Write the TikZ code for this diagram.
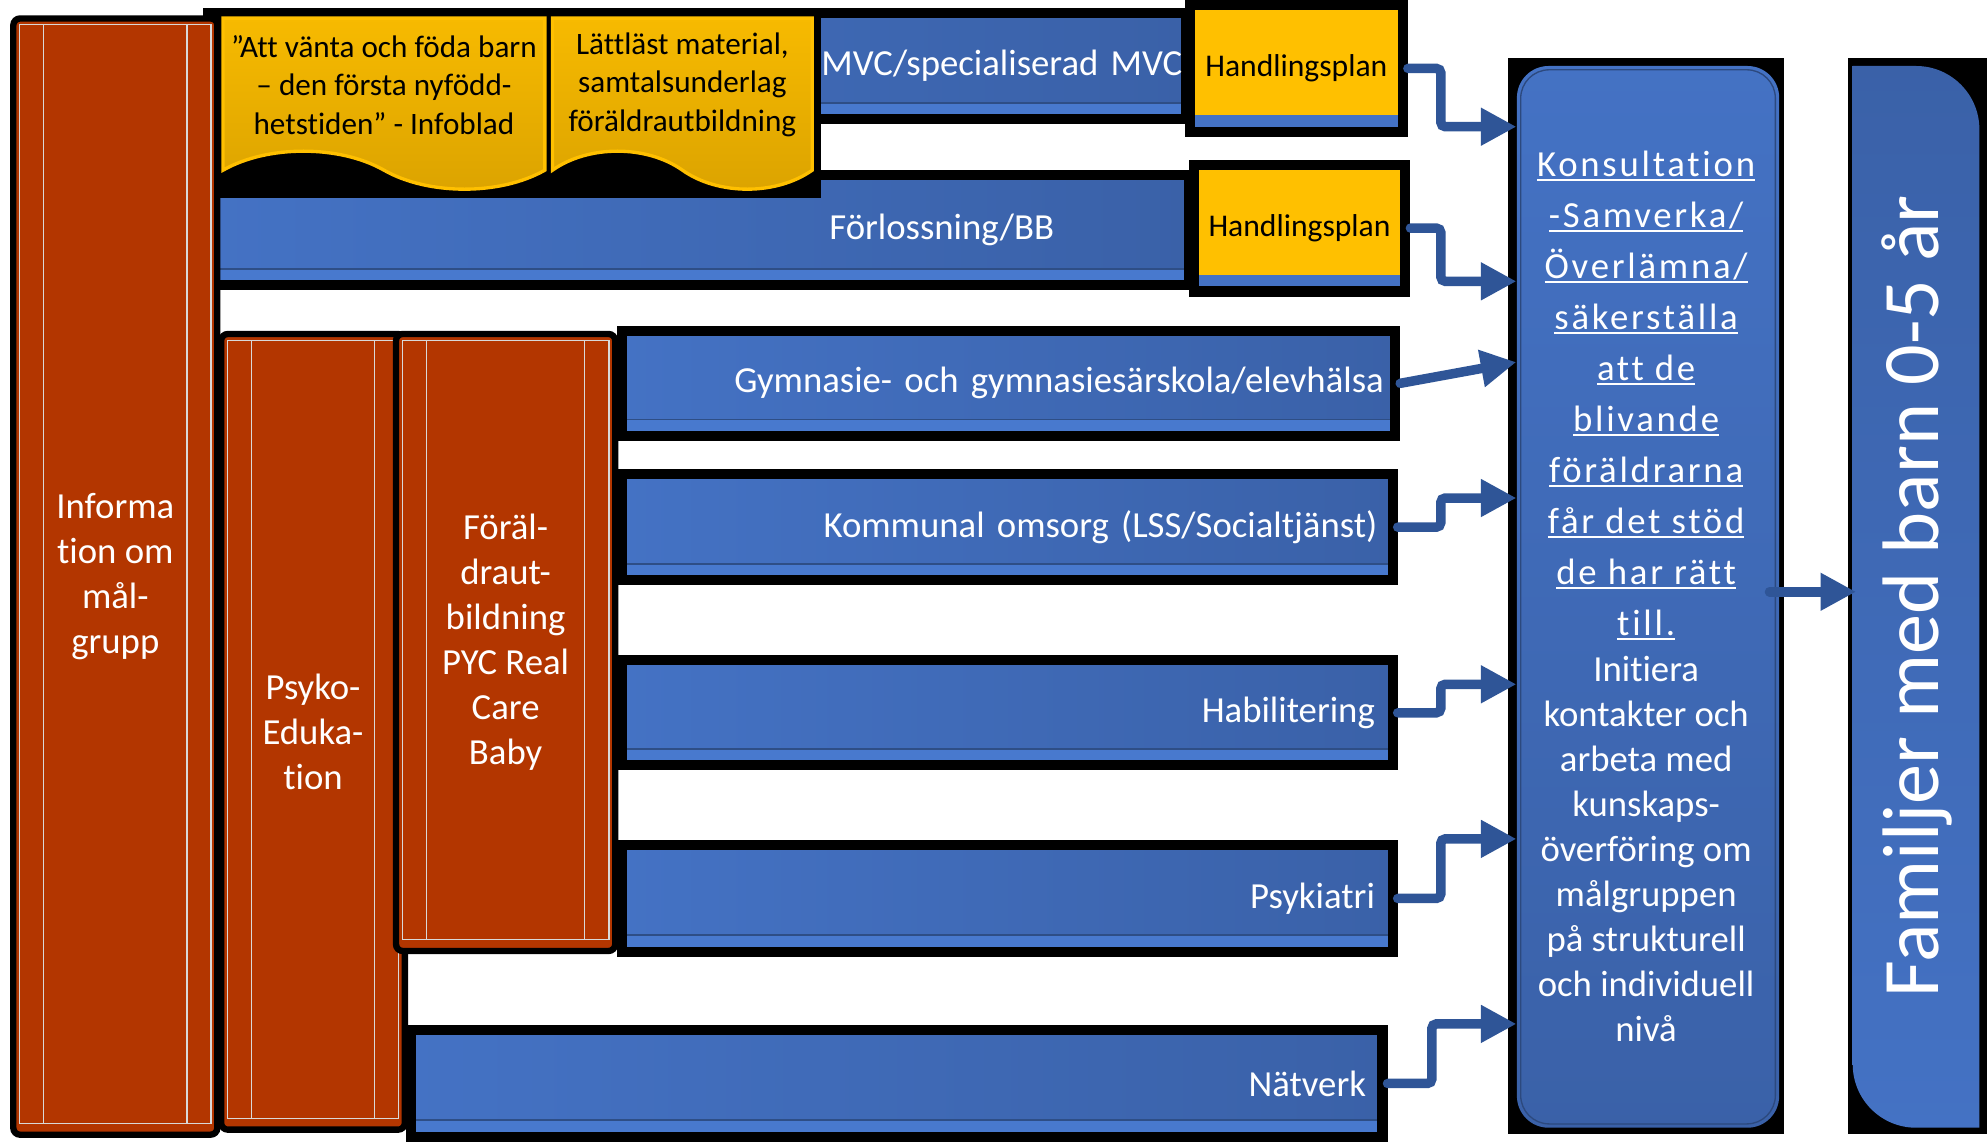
\documentclass[tikz,border=0pt]{standalone}
\usepackage{fontspec}
\setmainfont{Carlito}[Ligatures=NoCommon]
\usetikzlibrary{arrows.meta, shapes.symbols}

\definecolor{colred}{HTML}{B33600}
\definecolor{barlight}{HTML}{4472C4}
\definecolor{bardark}{HTML}{3A61A8}
\definecolor{barstrip}{HTML}{4879CE}
\definecolor{arrowblue}{HTML}{2F5597}
\definecolor{planyellow}{HTML}{FFC000}
\definecolor{docyellow}{HTML}{F7BA00}
\definecolor{docdark}{HTML}{DBA300}
\definecolor{innerline}{HTML}{D9D9D9}

% underlined line with a flat rule
\newcommand{\ulline}[1]{\setbox0=\hbox{#1}\rlap{\rule[-2.4pt]{\wd0}{0.9pt}}\box0}
\newcommand{\kline}[1]{{\addfontfeature{LetterSpace=7.5}\ulline{#1}}}

\tikzset{
  redcol/.style={draw=black, line width=0.1cm, fill=colred, rounded corners=3pt,
    text=white, align=center, inner sep=0pt, font=\fontsize{16.5}{20.2}\selectfont,
    path picture={
      \draw[innerline, line width=0.6pt, sharp corners] ([shift={(5,5)}]path picture bounding box.north west) rectangle ([shift={(-5,-9)}]path picture bounding box.south east);
      \draw[innerline, line width=0.6pt] ([shift={(24,5)}]path picture bounding box.north west) -- ([shift={(24,-9)}]path picture bounding box.south west);
      \draw[innerline, line width=0.6pt] ([shift={(-24,5)}]path picture bounding box.north east) -- ([shift={(-24,-9)}]path picture bounding box.south east);
    }},
  bluebar/.style={draw=black, line width=0.16cm, left color=barlight, right color=bardark,
    text=white, align=right, inner xsep=0.04cm, inner ysep=0pt, font=\fontsize{16.5}{20}\selectfont,
    path picture={
      \fill[barstrip] ([shift={(0,-13)}]path picture bounding box.south west) rectangle (path picture bounding box.south east);
      \draw[bardark!80!black, line width=0.8pt] ([shift={(0,-13)}]path picture bounding box.south west) -- ([shift={(0,-13)}]path picture bounding box.south east);
    }},
  planbox/.style={draw=black, line width=0.16cm, fill=planyellow, font=\fontsize{14.2}{17}\selectfont,
    path picture={
      \fill[barlight] ([shift={(0,-13)}]path picture bounding box.south west) rectangle (path picture bounding box.south east);
    }},
  docbox/.style={tape, tape bend top=none, tape bend bottom=out and in, tape bend height=0.6cm,
    top color=docyellow, bottom color=docdark, draw=planyellow, line width=1.5pt,
    anchor=north, align=center, inner sep=0pt, font=\fontsize{14}{17.3}\selectfont},
  konsbox/.style={fill=black, minimum width=4.36cm, minimum height=16.98cm,
    text=white, align=center, font=\fontsize{16.5}{20.2}\selectfont,
    path picture={
      \shade[top color=barlight, bottom color=bardark, rounded corners=0.5cm] ([shift={(7,6)}]path picture bounding box.north west) rectangle ([shift={(-4,-5)}]path picture bounding box.south east);
      \draw[bardark!75!black, line width=0.6pt, rounded corners=0.45cm] ([shift={(10,9)}]path picture bounding box.north west) rectangle ([shift={(-7,-8)}]path picture bounding box.south east);
    }},
  fambox/.style={fill=black, minimum width=2.2cm, minimum height=16.98cm,
    text=white, font=\fontsize{36}{40}\selectfont,
    path picture={
      \shade[top color=bardark, bottom color=barlight] ([shift={(4,6)}]path picture bounding box.north west) -- ([shift={(-56,6)}]path picture bounding box.north east) arc[start angle=90, end angle=0, radius=1cm] -- ([shift={(-6,-5)}]path picture bounding box.south east) -- ([shift={(54,-5)}]path picture bounding box.south west) arc[start angle=270, end angle=180, radius=1cm] -- cycle;
    }},
  flowarrow/.style={draw=arrowblue, line width=0.15cm, rounded corners=2pt, line cap=round,
    -{Triangle[length=0.56cm, width=0.56cm]}, shorten >=-0.14cm}
}

\begin{document}
\begin{tikzpicture}[x=0.02cm, y=-0.02cm]
  \fill[white] (0,0) rectangle (1568,901);
  \useasboundingbox (0,0) rectangle (1568,901);

  % top rows
  \node[bluebar, minimum width=15.44cm, minimum height=1.68cm, text width=15.32cm] (mvc) at (550,52) {MVC/specialiserad MVC};
  \node[bluebar, minimum width=15.48cm, minimum height=1.74cm, text width=11.24cm] (forl) at (551,181.5) {Förlossning/BB};
  \fill[black] (170,8) rectangle (648,156);
  \node[docbox, minimum width=5.08cm, minimum height=2.7cm] (infoblad) at (303,13) {”Att vänta och föda barn\\– den första nyfödd-\\hetstiden” - Infoblad};
  \node[docbox, minimum width=4.1cm, minimum height=2.7cm] (material) at (538.5,13) {Lättläst material,\\samtalsunderlag\\föräldrautbildning};

  % red columns
  \node[redcol, minimum width=3.22cm, minimum height=17.62cm] (malgrupp) at (91,455) {Informa\\tion om\\mål-\\grupp};
  \node[redcol, minimum width=2.9cm, minimum height=12.56cm] (psyko) at (247,577.5) {Psyko-\\Eduka-\\tion};
  \node[redcol, minimum width=3.46cm, minimum height=9.74cm] (pyc) at (399,507) {Föräl-\\draut-\\bildning\\PYC Real\\Care\\Baby};

  % actors
  \node[bluebar, minimum width=12.2cm, minimum height=1.66cm, text width=11.84cm] (gym) at (796,302.5) {Gymnasie- och gymnasiesärskola/elevhälsa};
  \node[bluebar, minimum width=12.16cm, minimum height=1.68cm, text width=11.68cm] (kom) at (795,416) {Kommunal omsorg (LSS/Socialtjänst)};
  \node[bluebar, minimum width=12.16cm, minimum height=1.66cm, text width=11.6cm] (hab) at (795,562.5) {Habilitering};
  \node[bluebar, minimum width=12.16cm, minimum height=1.68cm, text width=11.6cm] (psyk) at (795,709) {Psykiatri};
  \node[bluebar, minimum width=15.34cm, minimum height=1.68cm, text width=14.82cm] (nat) at (707.5,855) {Nätverk};

  \node[planbox, minimum width=3.36cm, minimum height=2cm] (plan1) at (1023,54) {Handlingsplan};
  \node[planbox, minimum width=3.34cm, minimum height=2cm] (plan2) at (1025.5,180) {Handlingsplan};

  \node[konsbox] (kons) at (1299,470.5) {\kline{Konsultation}\\[2.7pt]
    \kline{-Samverka/}\\[2.7pt] \kline{Överlämna/}\\[2.7pt] \kline{säkerställa}\\[2.7pt]
    \kline{att de}\\[2.7pt] \kline{blivande}\\[2.7pt] \kline{föräldrarna}\\[2.7pt]
    \kline{får det stöd}\\[2.7pt] \kline{de har rätt}\\[2.7pt] \kline{till.}\\[0.8pt]
    Initiera\\ kontakter och\\ arbeta med\\ kunskaps-\\ överföring om\\ målgruppen\\
    på strukturell\\ och individuell\\ nivå};
  \node[fambox] (fam) at (1513,470.5) {\rotatebox{90}{Familjer med barn 0-5 år}};

  % arrows
  \draw[flowarrow] (plan1.east) -- ++(26,0) |- (kons.west |- 0,100);
  \draw[flowarrow] (plan2.east) -- ++(24,0) |- (kons.west |- 0,222);
  \draw[flowarrow] (gym.east) -- (kons.west |- 0,287);
  \draw[flowarrow] (kom.east) -- ++(34,0) |- (kons.west |- 0,393);
  \draw[flowarrow] (hab.east) -- ++(34,0) |- (kons.west |- 0,540);
  \draw[flowarrow] (psyk.east) -- ++(34,0) |- (kons.west |- 0,662);
  \draw[flowarrow] (nat.east) -- ++(35,0) |- (kons.west |- 0,808);
  \draw[flowarrow, shorten <=-0.24cm] (kons.east |- 0,467) -- (fam.west |- 0,467);
\end{tikzpicture}
\end{document}
